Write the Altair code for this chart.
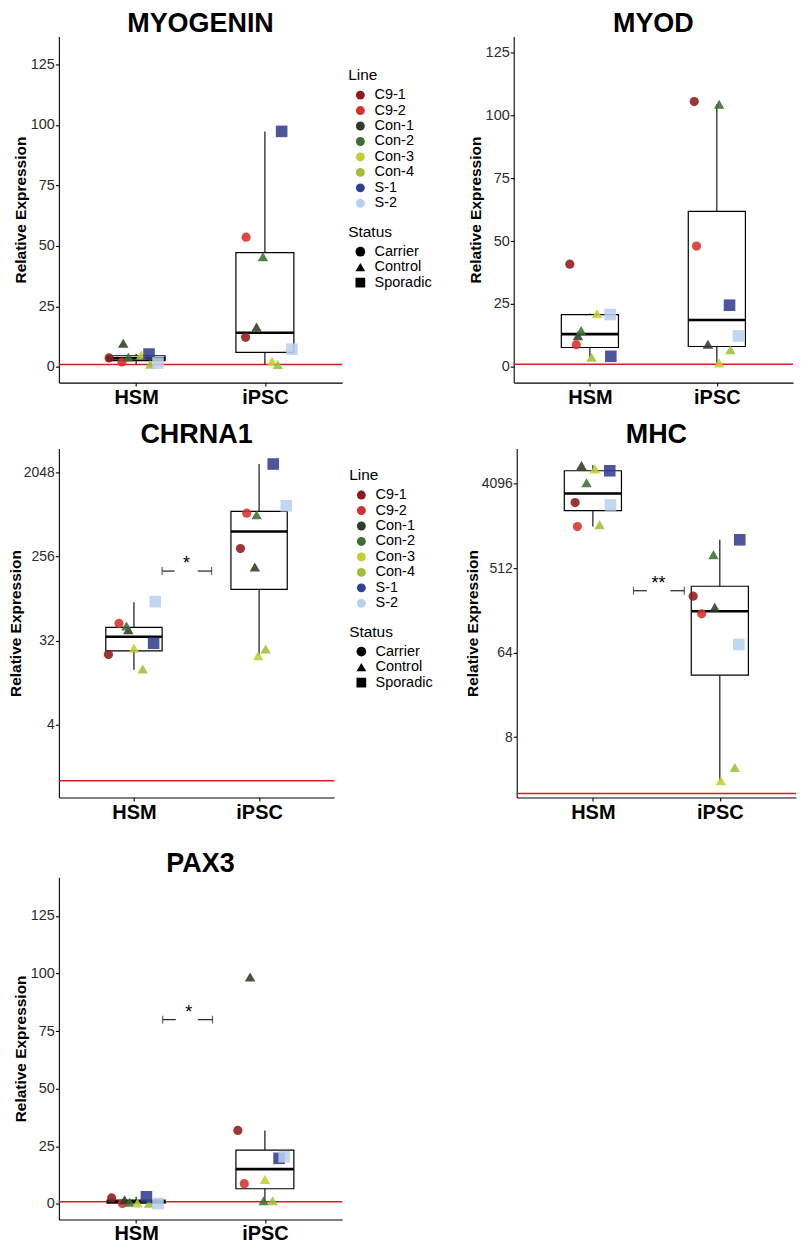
import altair as alt
import pandas as pd

FONT = "Liberation Sans"

lines = ["C9-1", "C9-2", "Con-1", "Con-2", "Con-3", "Con-4", "S-1", "S-2"]
line_status = ["Carrier", "Carrier", "Control", "Control", "Control", "Control", "Sporadic", "Sporadic"]
line_colors = ["#8e1b1b", "#d5322f", "#2e3d25", "#3b6e33", "#bfd030", "#9fbf3b", "#333d91", "#b8d0ee"]
status_levels = ["Carrier", "Control", "Sporadic"]
status_shapes = ["circle", "triangle-up", "square"]
status_sizes = [85, 135, 80]
groups = ["HSM", "iPSC"]
group_pos = [1, 2]

# ---------------- MYOGENIN ----------------
myog_hsm = [3.7, 2.0, 9.8, 4.1, 4.9, 1.1, 5.3, 1.6]
myog_hsm_jit = [-0.21, -0.11, -0.10, -0.06, 0.04, 0.11, 0.10, 0.17]
myog_ipsc = [12.2, 53.6, 16.5, 45.5, 2.3, 1.0, 97.3, 7.3]
myog_ipsc_jit = [-0.15, -0.146, -0.065, -0.015, 0.055, 0.10, 0.13, 0.21]
myog_q1 = [2.6, 6.0]
myog_med = [3.5, 14.1]
myog_q3 = [4.6, 47.2]
myog_lo = [1.1, 1.0]
myog_hi = [5.3, 97.3]

# ---------------- MYOD ----------------
myod_hsm = [40.8, 8.8, 12.4, 14.4, 21.2, 3.8, 4.2, 20.8]
myod_hsm_jit = [-0.158, -0.107, -0.094, -0.069, 0.056, 0.013, 0.165, 0.16]
myod_ipsc = [105.4, 48.0, 9.0, 104.3, 1.6, 6.8, 24.5, 12.3]
myod_ipsc_jit = [-0.178, -0.16, -0.07, 0.018, 0.018, 0.107, 0.10, 0.17]
myod_q1 = [7.7, 8.1]
myod_med = [13.0, 18.6]
myod_q3 = [20.8, 61.8]
myod_lo = [3.8, 1.6]
myod_hi = [21.2, 104.3]

# ---------------- CHRNA1 ----------------
chrna_hsm = [22.7, 49, 42, 46, 26.7, 15.9, 30, 84]
chrna_hsm_jit = [-0.204, -0.12, -0.045, -0.06, 0.0, 0.07, 0.157, 0.17]
chrna_ipsc = [312, 750, 198, 720, 22.1, 26, 2529, 900]
chrna_ipsc_jit = [-0.149, -0.099, -0.034, -0.02, -0.008, 0.052, 0.113, 0.217]
chrna_q1 = [24.9, 114]
chrna_med = [35.3, 477]
chrna_q3 = [44.4, 784]
chrna_lo = [15.6, 22]
chrna_hi = [83, 2529]

# ---------------- MHC ----------------
mhc_hsm = [2560, 1420, 6370, 4160, 5860, 1480, 5590, 2410]
mhc_hsm_jit = [-0.14, -0.122, -0.09, -0.05, 0.016, 0.053, 0.133, 0.139]
mhc_ipsc = [256, 166, 195, 710, 2.75, 3.8, 1024, 78]
mhc_ipsc_jit = [-0.21, -0.143, -0.04, -0.05, 0.008, 0.118, 0.157, 0.15]
mhc_q1 = [2100, 36.8]
mhc_med = [3200, 177]
mhc_q3 = [5590, 327]
mhc_lo = [1420, 2.75]
mhc_hi = [6400, 1024]

# ---------------- PAX3 ----------------
pax_hsm = [2.6, 0.2, 1.8, 0.8, 0.4, 0.3, 3.1, 0.2]
pax_hsm_jit = [-0.19, -0.107, -0.09, -0.05, 0.01, 0.1, 0.08, 0.17]
pax_ipsc = [31.9, 8.8, 98.5, 1.4, 10.6, 1.4, 19.8, 20.5]
pax_ipsc_jit = [-0.21, -0.16, -0.115, -0.01, 0.0, 0.06, 0.11, 0.15]
pax_q1 = [0.3, 6.6]
pax_med = [1.0, 15.1]
pax_q3 = [1.7, 23.4]
pax_lo = [0.2, 1.4]
pax_hi = [3.1, 31.9]

# significance brackets: y, left tick, left seg end, right seg start, right tick, label x, label
chrna_bracket = [179, 1.225, 1.325, 1.51, 1.62, 1.42, "*"]
mhc_bracket = [293, 1.32, 1.425, 1.61, 1.72, 1.517, "**"]
pax_bracket = [80, 1.206, 1.308, 1.479, 1.593, 1.408, "*"]

lin_ticks = [0, 25, 50, 75, 100, 125]


def panel(title, vh, jh, vi, ji, q1, med, q3, lo, hi, ydomain, yticks, log, ref_y,
          width, height, title_pad, label_size, color_leg=None, shape_leg=None, bracket=None):
    pts = pd.DataFrame({
        "line": lines + lines,
        "status": line_status + line_status,
        "gpos": [group_pos[0]] * 8 + [group_pos[1]] * 8,
        "jit": jh + ji,
        "value": vh + vi,
    })
    box = pd.DataFrame({"gpos": group_pos, "q1": q1, "med": med, "q3": q3, "lo": lo, "hi": hi})
    xs = alt.Scale(domain=[0.4, 2.6], nice=False, zero=False)
    if log:
        ys = alt.Scale(type="log", base=2, domain=ydomain, nice=False)
    else:
        ys = alt.Scale(domain=ydomain, nice=False, zero=False)
    xa = alt.Axis(values=group_pos, labelExpr="datum.value == 1 ? 'HSM' : 'iPSC'", title=None,
                  labelFontSize=20, labelFontWeight="bold", labelColor="black", tickSize=3.5,
                  labelPadding=1, labelFont=FONT)
    ya = alt.Axis(values=yticks, format="d", title="Relative Expression", titleFontSize=15.5,
                  titleFontWeight="bold", titleColor="black", labelFontSize=label_size,
                  labelColor="#2a2a2a", tickSize=3.5, labelPadding=1, titlePadding=title_pad,
                  labelFont=FONT, titleFont=FONT)

    def X(f):
        return alt.X(f, type="quantitative", scale=xs, axis=xa)

    def Y(f):
        return alt.Y(f, type="quantitative", scale=ys, axis=ya)

    ref = alt.Chart(pd.DataFrame({"ref": [ref_y]})).mark_rule(color="#d11f26", strokeWidth=1.5).encode(y=Y("ref"))
    bb = alt.Chart(box).transform_calculate(bx1="datum.gpos - 0.225", bx2="datum.gpos + 0.225")
    wl = bb.mark_rule(color="black", strokeWidth=1.1).encode(x=X("gpos"), y=Y("lo"), y2="q1")
    wh = bb.mark_rule(color="black", strokeWidth=1.1).encode(x=X("gpos"), y=Y("q3"), y2="hi")
    rect = bb.mark_rect(fill="transparent", stroke="black", strokeWidth=1.2).encode(
        x=X("bx1"), x2="bx2", y=Y("q1"), y2="q3")
    medr = bb.mark_rule(color="black", strokeWidth=2.6).encode(x=X("bx1"), x2="bx2", y=Y("med"))
    points = alt.Chart(pts).transform_calculate(
        xp="datum.gpos + datum.jit", st2="datum.status"
    ).mark_point(filled=True, opacity=0.88).encode(
        x=X("xp"),
        y=Y("value"),
        color=alt.Color("line:N", scale=alt.Scale(domain=lines, range=line_colors),
                        legend=color_leg),
        shape=alt.Shape("status:N", scale=alt.Scale(domain=status_levels, range=status_shapes),
                        legend=shape_leg),
        size=alt.Size("st2:N", scale=alt.Scale(range=status_sizes), legend=None),
    )
    layers = [ref, wl, wh, rect, medr, points]
    if bracket is not None:
        br = pd.DataFrame({"y": [bracket[0]], "xl": [bracket[1]], "xl2": [bracket[2]],
                           "xr": [bracket[3]], "xr2": [bracket[4]], "xt": [bracket[5]],
                           "lab": [bracket[6]]})
        bc = alt.Chart(br)
        layers += [
            bc.mark_rule(color="#222222", strokeWidth=1.2).encode(x=X("xl"), x2="xl2", y=Y("y")),
            bc.mark_rule(color="#222222", strokeWidth=1.2).encode(x=X("xr"), x2="xr2", y=Y("y")),
            bc.mark_tick(orient="vertical", size=8, thickness=1.2, color="#222222").encode(x=X("xl"), y=Y("y")),
            bc.mark_tick(orient="vertical", size=8, thickness=1.2, color="#222222").encode(x=X("xr2"), y=Y("y")),
            bc.mark_text(fontSize=18, dy=-7, baseline="middle", font=FONT, color="black").encode(
                x=X("xt"), y=Y("y"), text="lab:N"),
        ]
    return alt.layer(*layers).properties(
        width=width, height=height,
        title=alt.TitleParams(text=title, fontSize=27, fontWeight="bold", font=FONT, color="black",
                              offset=-1, anchor="middle"),
    )


def color_legend(lx, ly):
    return alt.Legend(title="Line", orient="none", legendX=lx, legendY=ly, symbolType="circle",
                      symbolOpacity=1, symbolStrokeWidth=0)


def shape_legend(lx, ly):
    return alt.Legend(title="Status", orient="none", legendX=lx, legendY=ly, symbolFillColor="black",
                      symbolStrokeColor="black", symbolStrokeWidth=0, symbolOpacity=1,
                      symbolSize=95)


p1 = panel("MYOGENIN", myog_hsm, myog_hsm_jit, myog_ipsc, myog_ipsc_jit, myog_q1, myog_med, myog_q3,
           myog_lo, myog_hi, [-6.5, 136.5], lin_ticks, False, 1, 284, 347, 2, 14.5,
           color_leg=color_legend(290, 32), shape_leg=shape_legend(290, 189))
p2 = panel("MYOD", myod_hsm, myod_hsm_jit, myod_ipsc, myod_ipsc_jit, myod_q1, myod_med, myod_q3,
           myod_lo, myod_hi, [-6.25, 131.25], lin_ticks, False, 1, 280, 347, 2, 14.5)
p3 = panel("CHRNA1", chrna_hsm, chrna_hsm_jit, chrna_ipsc, chrna_ipsc_jit, chrna_q1, chrna_med, chrna_q3,
           chrna_lo, chrna_hi, [0.66, 3717], [4, 32, 256, 2048], True, 1, 276, 350, 0, 14,
           color_leg=color_legend(291, 20), shape_leg=shape_legend(291, 177), bracket=chrna_bracket)
p4 = panel("MHC", mhc_hsm, mhc_hsm_jit, mhc_ipsc, mhc_ipsc_jit, mhc_q1, mhc_med, mhc_q3,
           mhc_lo, mhc_hi, [1.815, 9675], [8, 64, 512, 4096], True, 2, 280, 350, 1, 14,
           bracket=mhc_bracket)
p5 = panel("PAX3", pax_hsm, pax_hsm_jit, pax_ipsc, pax_ipsc_jit, pax_q1, pax_med, pax_q3,
           pax_lo, pax_hi, [-6.75, 141.75], lin_ticks, False, 1, 284, 343, 2, 14.5, bracket=pax_bracket)

ind = dict(color="independent", shape="independent", size="independent")
row1 = alt.hconcat(p1, p2, spacing=36).resolve_scale(**ind)
row2 = alt.hconcat(p3, p4, spacing=32).resolve_scale(**ind)
top = alt.concat(row1, row2, columns=1, align="none", spacing=14).resolve_scale(**ind)
chart = alt.concat(top, p5, columns=1, align="none", spacing=28).resolve_scale(**ind).properties(
    padding={"left": 0, "top": 0, "right": 0, "bottom": 0}
).configure_view(stroke=None).configure_axis(
    grid=False, domainColor="black", domainWidth=1.1, tickColor="black", tickWidth=1.1,
    labelFont=FONT, titleFont=FONT
).configure_legend(
    labelFont=FONT, titleFont=FONT, labelFontSize=14.5, titleFontSize=15.5, titleFontWeight="normal",
    padding=0, rowPadding=0.5, titlePadding=4, symbolSize=80, labelOffset=7, symbolOffset=5,
    labelColor="black", titleColor="black"
)

chart.save("out.html", embed_options={"renderer": "svg", "actions": False})
